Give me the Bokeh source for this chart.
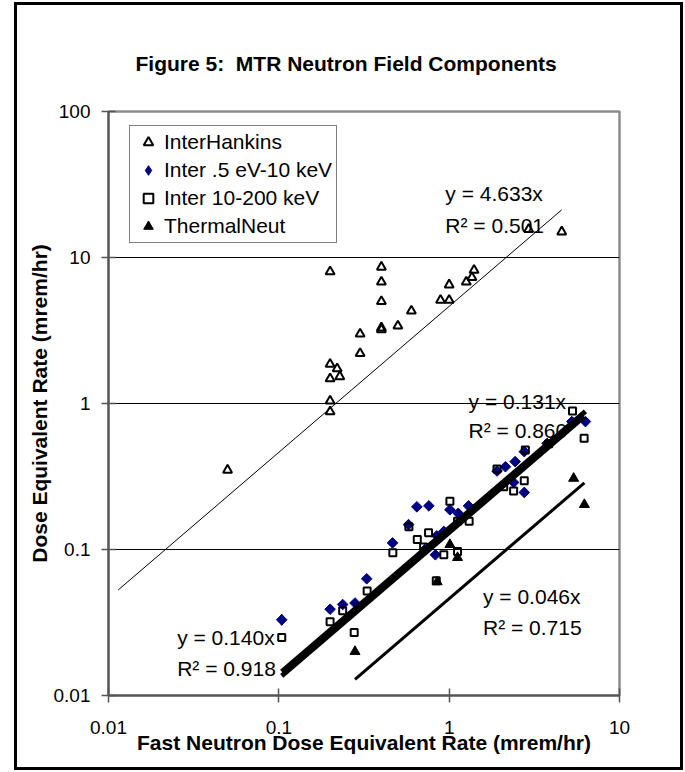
from bokeh.plotting import figure
from bokeh.models import Range1d, FixedTicker, Legend, LegendItem, Label
from bokeh.embed import file_html
from bokeh.resources import INLINE

FONT = "Liberation Sans"

# ---------------- data ----------------
hankins_x = [0.05, 0.2, 0.2, 0.2, 0.2, 0.2, 0.22, 0.228, 0.3, 0.3, 0.4, 0.4, 0.4, 0.4, 0.4,
             0.5, 0.6, 0.89, 1.0, 1.0, 1.26, 1.36, 1.4, 2.93, 4.58]
hankins_y = [0.35, 8.0, 1.86, 1.48, 1.04, 0.88, 1.73, 1.53, 3.0, 2.2, 8.6, 6.8, 5.0, 3.2, 3.3,
             3.4, 4.3, 5.1, 5.1, 6.5, 6.8, 7.3, 8.2, 15.6, 15.0]

low_x = [0.104, 0.2, 0.237, 0.28, 0.328, 0.465, 0.577, 0.646, 0.76, 0.72, 0.83, 0.846, 0.93,
         1.01, 1.13, 1.30, 1.91, 2.14, 2.44, 2.76, 2.39, 2.76, 3.76, 5.25, 6.31]
low_y = [0.033, 0.039, 0.042, 0.043, 0.063, 0.111, 0.148, 0.196, 0.199, 0.10, 0.092, 0.124, 0.133,
         0.187, 0.177, 0.199, 0.345, 0.369, 0.40, 0.468, 0.288, 0.246, 0.533, 0.752, 0.752]

mid_x = [0.104, 0.2, 0.237, 0.277, 0.33, 0.467, 0.58, 0.65, 0.708, 0.757, 0.84, 0.93, 1.01,
         1.12, 1.12, 1.31, 1.91, 2.09, 2.39, 2.76, 2.8, 3.84, 5.3, 6.2]
mid_y = [0.025, 0.032, 0.038, 0.027, 0.052, 0.095, 0.143, 0.117, 0.104, 0.13, 0.061, 0.092, 0.214,
         0.097, 0.156, 0.156, 0.356, 0.269, 0.252, 0.296, 0.48, 0.53, 0.89, 0.578]

thermal_x = [0.28, 0.85, 1.01, 1.12, 5.38, 6.22]
thermal_y = [0.02, 0.06, 0.108, 0.088, 0.307, 0.203]

series_names = ["InterHankins", "Inter .5 eV-10 keV", "Inter 10-200 keV", "ThermalNeut"]

# trendlines (y = a x)
fit_slopes = [4.633, 0.140, 0.131, 0.046]
fit_r2 = ["0.501", "0.918", "0.860", "0.715"]
hankins_fit_start = 0.0114   # backward forecast of the Excel trendline

x_ticks = [0.01, 0.1, 1, 10]
x_tick_labels = ["0.01", "0.1", "1", "10"]
y_ticks = [0.01, 0.1, 1, 10, 100]
y_tick_labels = ["0.01", "0.1", "1", "10", "100"]

title_text = "Figure 5:\u00a0 MTR Neutron Field Components"
x_title = "Fast Neutron Dose Equivalent Rate (mrem/hr)"
y_title = "Dose Equivalent Rate (mrem/hr)"

# ---------------- figure ----------------
PAGE_LEFT = 12
W, H = 685 - PAGE_LEFT, 772
p = figure(width=W, height=H, x_axis_type="log", y_axis_type="log",
           x_range=Range1d(0.01, 10), y_range=Range1d(0.01, 100),
           output_backend="svg", toolbar_location=None,
           min_border_left=96, min_border_right=66, min_border_top=111, min_border_bottom=77)
p.styles = {"margin-left": f"{PAGE_LEFT}px", "outline": "3px solid black",
            "outline-offset": "-5px", "background-color": "white"}
p.background_fill_color = "white"
p.border_fill_color = None
p.outline_line_color = "#8c8c8c"
p.outline_line_width = 2.5

p.title.text = title_text
p.title.text_font = FONT
p.title.text_font_size = "21px"
p.title.text_font_style = "bold"
p.title.text_color = "black"
p.title.align = "left"
p.title.offset = 27
p.title.standoff = 73

for ax, ticks, labels in ((p.xaxis[0], x_ticks, x_tick_labels), (p.yaxis[0], y_ticks, y_tick_labels)):
    ax.ticker = FixedTicker(ticks=ticks)
    ax.major_label_overrides = {t: l for t, l in zip(ticks, labels)}
    ax.major_label_text_font = FONT
    ax.major_label_text_font_size = "19px"
    ax.major_label_text_color = "black"
    ax.axis_line_color = "#555555"
    ax.axis_line_width = 2
    ax.major_tick_line_color = "#555555"
    ax.major_tick_line_width = 1.5
    ax.major_tick_out = 7
    ax.major_tick_in = 7
    ax.minor_tick_line_color = None
    ax.axis_label_text_font = FONT
    ax.axis_label_text_font_size = "21px"
    ax.axis_label_text_font_style = "bold"
    ax.axis_label_text_color = "black"

p.xaxis.axis_label = x_title
p.yaxis.axis_label = y_title
p.xaxis.major_label_standoff = 18
p.yaxis.major_label_standoff = 11
p.xaxis.axis_label_standoff = -6
p.yaxis.axis_label_standoff = 0

p.xgrid.grid_line_color = None
p.ygrid.ticker = FixedTicker(ticks=[t for t in y_ticks if 0.01 < t < 100])
p.ygrid.grid_line_color = "black"
p.ygrid.grid_line_width = 1

# ---------------- markers ----------------
r_h = p.scatter(hankins_x, hankins_y, marker="triangle", size=9, fill_color=None,
                line_color="black", line_width=2)
r_l = p.scatter(low_x, low_y, marker="square", angle=0.785398, size=7.5,
                fill_color="#000080", line_color="#000080", line_width=1)
# legend key for the diamond series (the legend does not rotate markers);
# drawn on the first point of the series, hidden inside its marker
r_l_key = p.scatter(low_x[:1], low_y[:1], marker="diamond", size=11, fill_color="#000080",
                    line_color="#000080", line_width=1)
r_m = p.scatter(mid_x, mid_y, marker="square", size=7, fill_color=None,
                line_color="black", line_width=2)
r_t = p.scatter(thermal_x, thermal_y, marker="triangle", size=10, fill_color="black",
                line_color="black", line_width=1)

# ---------------- trendlines ----------------
fit_sets = [(hankins_fit_start, max(hankins_x)), (min(low_x), max(low_x)),
            (min(mid_x), max(mid_x)), (min(thermal_x), max(thermal_x))]
fit_widths = [1, 5, 5, 3]
for a, (x0, x1), lw in zip(fit_slopes, fit_sets, fit_widths):
    p.line([x0, x1], [a * x0, a * x1], line_color="black", line_width=lw)

# ---------------- trendline labels ----------------
label_pos = [(0.95, 27.6, 16.6), (0.0253, 0.0250, 0.0153), (1.30, 1.04, 0.656), (1.58, 0.0473, 0.0294)]
for a, r2, (lx, ly1, ly2) in zip(fit_slopes, fit_r2, label_pos):
    for txt, ly in ((f"y = {a:.3f}x", ly1), (f"R\u00b2 = {r2}", ly2)):
        p.add_layout(Label(x=lx, y=ly, text=txt, text_font=FONT, text_font_size="21px",
                           text_align="left", text_baseline="middle", text_color="black"))

# ---------------- legend ----------------
legend = Legend(items=[LegendItem(label=n, renderers=[r]) for n, r in
                       zip(series_names, [r_h, r_l_key, r_m, r_t])],
                location=(21, 452))
legend.label_text_font = FONT
legend.label_text_font_size = "21px"
legend.label_text_color = "black"
legend.border_line_color = "black"
legend.border_line_width = 1
legend.background_fill_color = "white"
legend.background_fill_alpha = 1
legend.padding = 4
legend.spacing = 4
legend.glyph_height = 24
legend.label_height = 24
legend.glyph_width = 28
legend.label_standoff = 2
legend.margin = 0
p.add_layout(legend, "center")

open("out.html", "w").write(file_html(p, INLINE))
